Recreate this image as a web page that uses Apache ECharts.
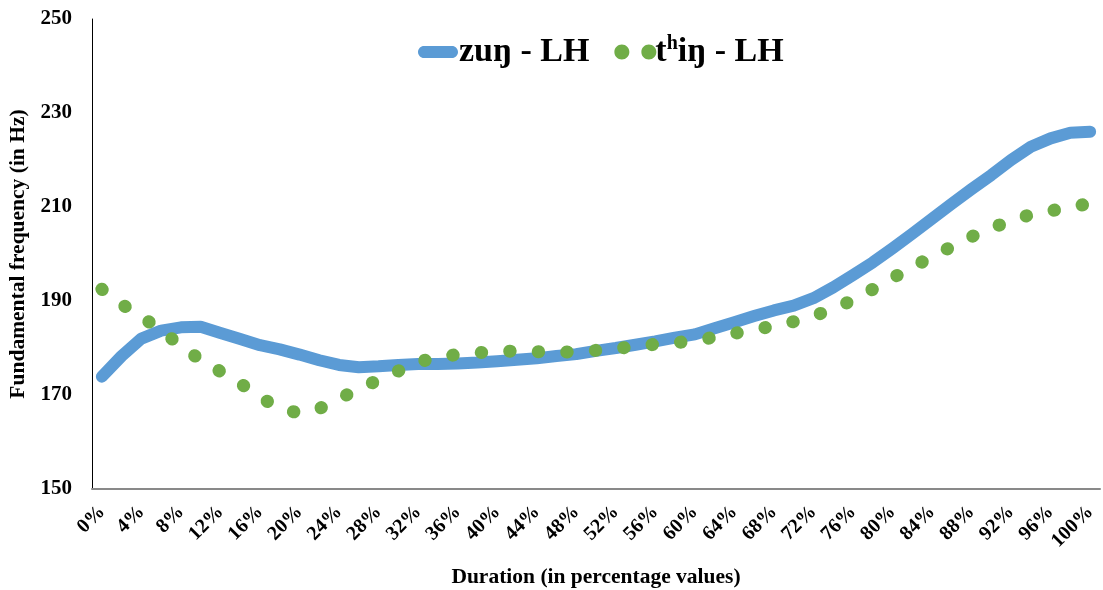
<!DOCTYPE html>
<html>
<head>
<meta charset="utf-8">
<script src="https://cdn.jsdelivr.net/npm/echarts@6/dist/echarts.min.js"></script>
<style>
html,body{margin:0;padding:0;background:#fff;}
#chart{width:1103px;height:590px;}
</style>
</head>
<body>
<div id="chart"></div>
<script>
// Categories: 0% .. 100% in 2% steps
const categories = [];
for (let p = 0; p <= 100; p += 2) categories.push(p + '%');

const seriesNames = ['zuŋ - LH', 'tʰiŋ - LH'];

// zuŋ - LH (blue solid line)
const zungLH = [
  173.9, 178.3, 182.0, 183.7, 184.4, 184.5, 183.2, 181.9, 180.6, 179.7,
  178.6, 177.4, 176.4, 175.9, 176.1, 176.4, 176.6, 176.6, 176.7, 176.9,
  177.2, 177.5, 177.8, 178.3, 178.7, 179.4, 180.0, 180.7, 181.4, 182.2,
  182.9, 184.2, 185.5, 186.8, 188.0, 189.0, 190.6, 192.9, 195.5, 198.2,
  201.2, 204.3, 207.5, 210.7, 213.8, 216.8, 220.0, 222.8, 224.6, 225.8,
  226.0
];

// tʰiŋ - LH (green round-dot line)
const thingLH = [
  192.5, 189.3, 186.7, 183.7, 180.5, 177.4, 175.0, 172.5, 169.5, 167.2,
  166.1, 167.1, 169.2, 171.3, 173.2, 175.1, 177.0, 178.1, 178.6, 179.0,
  179.2, 179.4, 179.2, 179.1, 179.2, 179.5, 179.9, 180.3, 180.8, 181.1,
  181.6, 182.3, 183.1, 183.9, 184.7, 185.6, 186.8, 188.3, 190.2, 192.5,
  194.9, 197.2, 199.4, 201.6, 203.7, 205.5, 207.1, 208.4, 209.2, 209.9,
  210.8
];

const yMin = 150, yMax = 250, yStep = 20;

const chart = echarts.init(document.getElementById('chart'));
const serif = '"Liberation Serif", "Times New Roman", serif';

// legend icons (box 42 x 16)
const circ = function (cx, cy, r) {
  const k = r * 0.552;
  return 'M' + (cx - r) + ',' + cy +
    ' C' + (cx - r) + ',' + (cy - k) + ' ' + (cx - k) + ',' + (cy - r) + ' ' + cx + ',' + (cy - r) +
    ' C' + (cx + k) + ',' + (cy - r) + ' ' + (cx + r) + ',' + (cy - k) + ' ' + (cx + r) + ',' + cy +
    ' C' + (cx + r) + ',' + (cy + k) + ' ' + (cx + k) + ',' + (cy + r) + ' ' + cx + ',' + (cy + r) +
    ' C' + (cx - k) + ',' + (cy + r) + ' ' + (cx - r) + ',' + (cy + k) + ' ' + (cx - r) + ',' + cy + ' Z ';
};
const bbox = 'M0,0 L0,0 Z M42,16 L42,16 Z ';
const dotsIcon = 'path://' + bbox + circ(7.5, 8, 7.5) + circ(34.5, 8, 7.5);
const barIcon = 'path://' + bbox + 'M6,2 L34,2 C37.3,2 40,4.7 40,8 C40,11.3 37.3,14 34,14 L6,14 C2.7,14 0,11.3 0,8 C0,4.7 2.7,2 6,2 Z';

chart.setOption({
  animation: false,
  backgroundColor: '#ffffff',
  grid: { left: 92, right: 3, top: 19, bottom: 101, containLabel: false, outerBoundsMode: 'none' },
  legend: {
    left: 413,
    top: 29,
    itemGap: 25,
    itemWidth: 42,
    itemHeight: 16,
    data: [
      { name: seriesNames[0], icon: barIcon, itemStyle: { color: '#5B9BD5', borderWidth: 0 } },
      { name: seriesNames[1], icon: dotsIcon, itemStyle: { color: '#70AD47', borderWidth: 0 } }
    ],
    formatter: function (name) {
      if (name === seriesNames[0]) return '{a|zuŋ - LH}';
      return '{a|t}{s|h}{a|iŋ - LH}';
    },
    textStyle: {
      padding: [0, 0, 0, -6],
      rich: {
        a: { fontFamily: serif, fontWeight: 'bold', fontSize: 34, color: '#000', lineHeight: 36 },
        s: { fontFamily: serif, fontWeight: 'bold', fontSize: 20, color: '#000', lineHeight: 22, verticalAlign: 'top' }
      }
    }
  },
  xAxis: {
    type: 'category',
    data: categories,
    boundaryGap: true,
    name: 'Duration (in percentage values)',
    nameLocation: 'middle',
    nameGap: 77,
    nameTextStyle: { fontFamily: serif, fontWeight: 'bold', fontSize: 21.5, color: '#000' },
    axisLine: { show: true, lineStyle: { color: '#898989', width: 2 } },
    axisTick: { show: false },
    splitLine: { show: false },
    axisLabel: {
      interval: 1,
      rotate: 45,
      margin: 20,
      fontFamily: serif,
      fontWeight: 'bold',
      fontSize: 20,
      color: '#000'
    }
  },
  yAxis: {
    type: 'value',
    min: yMin,
    max: yMax,
    interval: yStep,
    name: 'Fundamental frequency (in Hz)',
    nameLocation: 'middle',
    nameGap: 63,
    nameRotate: 90,
    nameTextStyle: { fontFamily: serif, fontWeight: 'bold', fontSize: 21.5, color: '#000' },
    axisLine: { show: true, lineStyle: { color: '#000', width: 1 } },
    axisTick: { show: false },
    splitLine: { show: false },
    axisLabel: {
      margin: 20,
      fontFamily: serif,
      fontWeight: 'bold',
      fontSize: 21,
      color: '#000'
    }
  },
  series: [
    {
      name: seriesNames[0],
      type: 'line',
      data: zungLH,
      showSymbol: false,
      symbol: 'none',
      smooth: false,
      color: '#5B9BD5',
      lineStyle: { color: '#5B9BD5', width: 12, cap: 'round', join: 'round' },
      z: 2
    },
    {
      name: seriesNames[1],
      type: 'line',
      data: thingLH,
      showSymbol: false,
      symbol: 'none',
      smooth: false,
      color: '#70AD47',
      lineStyle: { color: '#70AD47', width: 13, cap: 'round', join: 'round', type: [0.5, 28.05] },
      z: 3
    }
  ]
});
</script>
</body>
</html>
